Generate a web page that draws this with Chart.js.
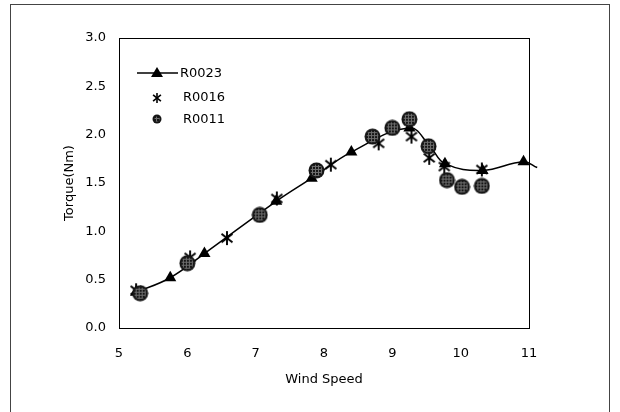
<!DOCTYPE html>
<html>
<head>
<meta charset="utf-8">
<script src="https://cdn.jsdelivr.net/npm/chart.js@4"></script>
<style>
  body { margin: 0; background: #fff; }
  #wrap { position: relative; width: 620px; height: 412px; overflow: hidden; }
  #frame { position: absolute; left: 10px; top: 4px; width: 598px; height: 430px; border: 1px solid #444; }
  canvas { position: absolute; left: 0; top: 0; }
</style>
</head>
<body>
<div id="wrap">
  <div id="frame"></div>
  <canvas id="myChart" width="620" height="412"></canvas>
</div>
<script>
// data
var speed23 = [5.25, 5.75, 6.25, 7.3, 7.82, 8.4, 9.25, 9.55, 9.77, 10.32, 10.92, 11.12];
var torque23 = [0.37, 0.52, 0.77, 1.31, 1.55, 1.82, 2.07, 1.88, 1.70, 1.63, 1.72, 1.66];
var speed16 = [5.25, 6.04, 6.58, 7.31, 8.1, 8.8, 9.28, 9.54, 9.76, 10.31];
var torque16 = [0.39, 0.73, 0.93, 1.34, 1.69, 1.91, 1.98, 1.76, 1.67, 1.64];
var speed11 = [5.31, 6.0, 7.06, 7.89, 8.71, 9.0, 9.25, 9.53, 9.8, 10.02, 10.31];
var torque11 = [0.36, 0.67, 1.17, 1.63, 1.98, 2.07, 2.16, 1.88, 1.53, 1.46, 1.47];
var xTicks = [5, 6, 7, 8, 9, 10, 11];
var yTicks = [0, 0.5, 1, 1.5, 2, 2.5, 3];

var FONT = '"DejaVu Sans", Verdana, sans-serif';

function pairs(xs, ys) {
  var out = [];
  for (var i = 0; i < xs.length; i++) out.push({x: xs[i], y: ys[i]});
  return out;
}

// asterisk marker (6 spokes)
function makeStar(size, lw) {
  var c = document.createElement('canvas');
  c.width = size; c.height = size;
  var g = c.getContext('2d');
  var m = size / 2, r = size / 2 - 1;
  g.strokeStyle = '#000';
  g.lineWidth = lw;
  var angles = [Math.PI / 2, Math.PI / 6 + 0.15, -Math.PI / 6 - 0.15];
  for (var k = 0; k < 3; k++) {
    var ang = angles[k];
    g.beginPath();
    g.moveTo(m + r * Math.cos(ang), m - r * Math.sin(ang));
    g.lineTo(m - r * Math.cos(ang), m + r * Math.sin(ang));
    g.stroke();
  }
  return c;
}

// hatched dark circle marker
function makeDot(size) {
  var c = document.createElement('canvas');
  c.width = size; c.height = size;
  var g = c.getContext('2d');
  var m = size / 2;
  g.beginPath();
  g.arc(m, m, m - 0.5, 0, Math.PI * 2);
  g.fillStyle = '#151515';
  g.fill();
  g.save();
  g.beginPath();
  g.arc(m, m, m - 2.5, 0, Math.PI * 2);
  g.clip();
  g.strokeStyle = '#6e6e6e';
  g.lineWidth = 1;
  for (var p = 1.5; p < size; p += 3) {
    g.beginPath(); g.moveTo(p, 0); g.lineTo(p, size); g.stroke();
    g.beginPath(); g.moveTo(0, p); g.lineTo(size, p); g.stroke();
  }
  g.restore();
  return c;
}

var starImg = makeStar(16, 1.9);
var dotImg = makeDot(17);
var starSmall = makeStar(12, 1.6);
var dotSmall = makeDot(10);

var radii23 = speed23.map(function (v, i) { return i == speed23.length - 1 ? 0 : 7; });

var boxPlugin = {
  id: 'box',
  afterDraw: function (chart) {
    var a = chart.chartArea, ctx = chart.ctx;
    ctx.save();
    ctx.strokeStyle = '#000';
    ctx.lineWidth = 1;
    ctx.strokeRect(a.left + 0.5, a.top + 0.5, a.right - a.left, a.bottom - a.top);

    // legend inside the plot
    var mx = a.left + 38;
    ctx.fillStyle = '#000';
    ctx.lineWidth = 1.5;
    ctx.beginPath();
    ctx.moveTo(a.left + 18, 73);
    ctx.lineTo(a.left + 59, 73);
    ctx.stroke();
    ctx.beginPath();
    ctx.moveTo(mx, 67);
    ctx.lineTo(mx + 6, 77);
    ctx.lineTo(mx - 6, 77);
    ctx.closePath();
    ctx.fill();
    ctx.drawImage(starSmall, mx - 6, 92);
    ctx.drawImage(dotSmall, mx - 5, 114);
    ctx.font = '13px ' + FONT;
    ctx.textBaseline = 'middle';
    ctx.fillText('R0023', a.left + 61, 74);
    ctx.fillText('R0016', a.left + 64, 98);
    ctx.fillText('R0011', a.left + 64, 120);
    ctx.restore();
  }
};

var ctx = document.getElementById('myChart').getContext('2d');
var chart = new Chart(ctx, {
  type: 'scatter',
  data: {
    datasets: [
      {
        label: 'R0011',
        data: pairs(speed11, torque11),
        pointStyle: dotImg,
        pointRadius: 8,
        showLine: false,
        order: 0
      },
      {
        label: 'R0016',
        data: pairs(speed16, torque16),
        pointStyle: starImg,
        pointRadius: 8,
        showLine: false,
        order: 1
      },
      {
        label: 'R0023',
        data: pairs(speed23, torque23),
        showLine: true,
        borderColor: '#000',
        borderWidth: 1.5,
        backgroundColor: '#000',
        pointStyle: 'triangle',
        pointRadius: radii23,
        pointBorderWidth: 0,
        tension: 0.4,
        clip: 10,
        order: 2
      }
    ]
  },
  options: {
    responsive: false,
    animation: false,
    elements: { line: { capBezierPoints: false } },
    layout: { padding: { left: 62, right: 91, top: 38, bottom: 25 } },
    plugins: { legend: { display: false }, tooltip: { enabled: false } },
    scales: {
      x: {
        type: 'linear',
        min: 5, max: 11,
        afterBuildTicks: function (s) { s.ticks = xTicks.map(function (v) { return {value: v}; }); },
        afterFit: function (s) { s.height = 59; },
        grid: { display: false, drawTicks: false },
        border: { display: false },
        ticks: { color: '#000', padding: 18, font: { size: 13, family: FONT } },
        title: { display: true, text: 'Wind Speed', color: '#000', padding: 0, font: { size: 13, family: FONT } }
      },
      y: {
        min: 0, max: 3,
        afterBuildTicks: function (s) { s.ticks = yTicks.map(function (v) { return {value: v}; }); },
        afterFit: function (s) { s.width = 57; },
        grid: { display: false, drawTicks: false },
        border: { display: false },
        ticks: {
          color: '#000', padding: 13,
          font: { size: 13, family: FONT },
          callback: function (v) { return v.toFixed(1); }
        },
        title: { display: true, text: 'Torque(Nm)', color: '#000', padding: 0, font: { size: 13, family: FONT } }
      }
    }
  },
  plugins: [boxPlugin]
});
</script>
</body>
</html>
